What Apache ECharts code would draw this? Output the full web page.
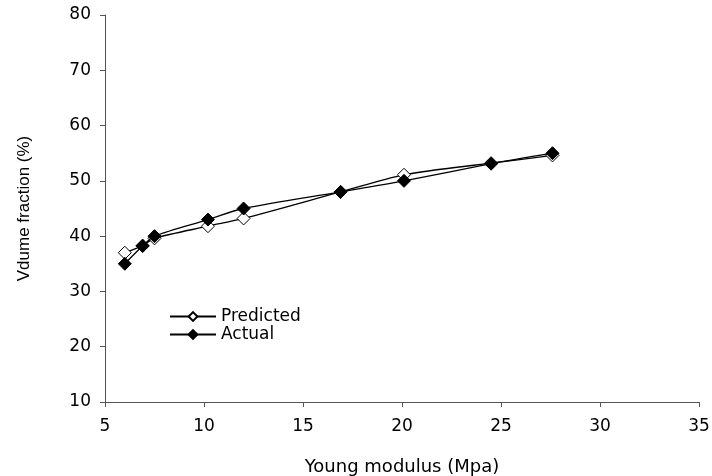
<!DOCTYPE html>
<html>
<head>
<meta charset="utf-8">
<script src="https://cdn.jsdelivr.net/npm/echarts@6/dist/echarts.min.js"></script>
<style>html,body{margin:0;padding:0;background:#fff;}#c{width:712px;height:476px;}</style>
</head>
<body>
<div id="c"></div>
<script>
var youngModulus = [6, 6.9, 7.5, 10.2, 12, 16.9, 20.1, 24.5, 27.6];
var predicted = [37, 38.3, 39.6, 41.8, 43.2, 48, 51.1, 53.2, 54.6];
var actual = [35, 38.2, 40, 43, 45, 48, 50, 53.1, 55];
var xTitle = 'Young modulus (Mpa)';
var yTitle = 'Vdume fraction (%)';

function pairs(xs, ys) { return xs.map(function (x, i) { return [x, ys[i]]; }); }

var font = 'DejaVu Sans, sans-serif';
var chart = echarts.init(document.getElementById('c'), null, {renderer: 'canvas'});
chart.setOption({
  animation: false,
  backgroundColor: '#fff',
  grid: {left: 105, right: 13, top: 15, bottom: 74, containLabel: false, outerBoundsMode: 'none'},
  legend: {
    orient: 'vertical', left: 169, top: 308, padding: 0, itemWidth: 46, itemHeight: 11, itemGap: 1,
    textStyle: {fontFamily: font, fontSize: 17, color: '#000'},
    data: ['Predicted', 'Actual']
  },
  xAxis: {
    type: 'value', min: 5, max: 35, interval: 5,
    name: xTitle, nameLocation: 'middle', nameGap: 56,
    nameTextStyle: {fontFamily: font, fontSize: 18, color: '#000'},
    axisLine: {lineStyle: {color: '#555', width: 1}},
    axisTick: {show: true, inside: false, length: 5, lineStyle: {color: '#555'}},
    axisLabel: {fontFamily: font, fontSize: 17, color: '#000', margin: 16},
    splitLine: {show: false}
  },
  yAxis: {
    type: 'value', min: 10, max: 80, interval: 10,
    name: yTitle, nameLocation: 'middle', nameGap: 72,
    nameTextStyle: {fontFamily: 'Liberation Sans, Arial, sans-serif', fontSize: 17, color: '#000'},
    axisLine: {show: true, lineStyle: {color: '#555', width: 1}},
    axisTick: {show: true, inside: false, length: 5, lineStyle: {color: '#555'}},
    axisLabel: {fontFamily: font, fontSize: 17, color: '#000', margin: 14},
    splitLine: {show: false}
  },
  series: [
    {
      name: 'Predicted', type: 'line', smooth: 0.3, data: pairs(youngModulus, predicted),
      symbol: 'diamond', symbolSize: [13, 13],
      lineStyle: {color: '#000', width: 1.3},
      itemStyle: {color: '#fff', borderColor: '#000', borderWidth: 1},
      z: 3
    },
    {
      name: 'Actual', type: 'line', smooth: 0.3, data: pairs(youngModulus, actual),
      symbol: 'diamond', symbolSize: [13, 13],
      lineStyle: {color: '#000', width: 1.3},
      itemStyle: {color: '#000', borderColor: '#000', borderWidth: 1},
      z: 4
    }
  ]
});
</script>
</body>
</html>
